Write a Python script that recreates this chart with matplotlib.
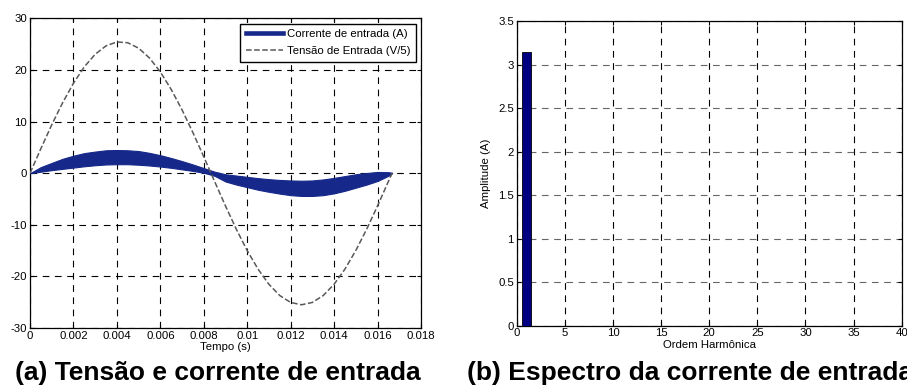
import matplotlib.pyplot as plt
import numpy as np
from matplotlib.ticker import FuncFormatter
from matplotlib.lines import Line2D

plt.rcParams['font.family'] = ['Liberation Sans', 'DejaVu Sans']
plt.rcParams['axes.unicode_minus'] = False

# tempo (ms) e valores
t_ms = [0, 0.5, 1.0, 1.5, 2.0, 2.5, 3.0, 3.5, 4.0, 4.5, 5.0, 5.5, 6.0, 6.5, 7.0, 7.5, 8.0,
        8.5, 9.0, 9.5, 10.0, 10.5, 11.0, 11.5, 12.0, 12.5, 13.0, 13.5, 14.0, 14.5, 15.0,
        15.5, 16.0, 16.5, 16.67]
tensao = [0, 4.78, 9.39, 13.66, 17.45, 20.63, 23.07, 24.70, 25.45, 25.30, 24.25, 22.35,
          19.65, 16.25, 12.29, 7.88, 3.20, -1.60, -6.34, -10.86, -14.99, -18.59, -21.53,
          -23.71, -25.05, -25.5, -25.05, -23.71, -21.53, -18.59, -14.99, -10.86, -6.34,
          -1.60, 0]
corrente_sup = [0, 1.2, 2.0, 2.8, 3.4, 3.9, 4.2, 4.45, 4.5, 4.45, 4.3, 3.95, 3.5, 2.95,
                2.35, 1.7, 1.0, 0.3, -0.2, -0.45, -0.7, -0.95, -1.15, -1.3, -1.4, -1.45,
                -1.4, -1.2, -0.9, -0.55, -0.2, 0.05, 0.25, 0.2, 0.1]
corrente_inf = [0, 0.3, 0.6, 0.85, 1.1, 1.35, 1.55, 1.7, 1.75, 1.75, 1.65, 1.5, 1.3, 1.05,
                0.75, 0.45, 0.1, -0.5, -1.6, -2.2, -2.7, -3.2, -3.6, -3.95, -4.25, -4.4,
                -4.4, -4.25, -3.9, -3.4, -2.8, -2.2, -1.5, -0.5, 0.0]

harmonicos = list(range(1, 41))
amplitude = [3.15] + [0.0] * 39

t = np.array(t_ms) / 1000.0
azul = '#16288a'
fs = 8.2

fig = plt.figure(figsize=(9.07, 3.87), dpi=100)

# (a)
ax1 = fig.add_axes([0.0331, 0.1525, 0.431, 0.7997])
ax1.fill_between(t, corrente_inf, corrente_sup, color=azul, lw=0.8, edgecolor=azul, zorder=3)
ax1.plot(t, tensao, '--', color='0.35', lw=1.1, zorder=4)
ax1.set_xlim(0, 0.018)
ax1.set_ylim(-30, 30)
ax1.set_xticks(np.arange(0, 0.0181, 0.002))
ax1.set_yticks(range(-30, 31, 10))
ax1.xaxis.set_major_formatter(FuncFormatter(lambda v, p: '%g' % round(v, 4)))
ax1.grid(True, color='black', ls=(0, (6, 5)), lw=0.8)
ax1.set_xlabel('Tempo (s)', fontsize=fs, labelpad=1)
handles = [Line2D([], [], color=azul, lw=3.3),
           Line2D([], [], color='0.35', ls='--', lw=1.1)]
ax1.legend(handles, ['Corrente de entrada (A)', 'Tensão de Entrada (V/5)'],
           loc='upper right', fontsize=fs, fancybox=False, edgecolor='black',
           framealpha=1, borderpad=0.5, handlelength=3.2, labelspacing=0.6,
           borderaxespad=0.45, handletextpad=0.35)

# (b)
ax2 = fig.add_axes([0.5697, 0.1584, 0.4245, 0.787])
ax2.bar(harmonicos, amplitude, width=0.9, color='#000080', edgecolor='black', lw=0.6, zorder=3)
ax2.set_xlim(0, 40)
ax2.set_ylim(0, 3.5)
ax2.set_xticks(range(0, 41, 5))
ax2.set_yticks(np.arange(0, 3.51, 0.5))
ax2.yaxis.set_major_formatter(FuncFormatter(lambda v, p: '%g' % v))
ax2.grid(True, axis='x', color='black', ls=(0, (6, 5)), lw=0.8)
ax2.grid(True, axis='y', color='0.4', ls=(0, (6, 5)), lw=0.8)
ax2.set_xlabel('Ordem Harmônica', fontsize=fs, labelpad=1)
ax2.set_ylabel('Amplitude (A)', fontsize=fs, labelpad=5)

for ax in (ax1, ax2):
    ax.tick_params(direction='in', length=3, labelsize=fs, top=True, right=True, pad=2)
    ax.set_axisbelow(True)
    for s in ax.spines.values():
        s.set_linewidth(0.9)

fig.text(0.0165, 0.036, '(a) Tensão e corrente de entrada', fontsize=19,
         fontweight='bold', va='center', ha='left')
fig.text(0.515, 0.036, '(b) Espectro da corrente de entrada', fontsize=19,
         fontweight='bold', va='center', ha='left')

fig.savefig('out.png', dpi=100)
